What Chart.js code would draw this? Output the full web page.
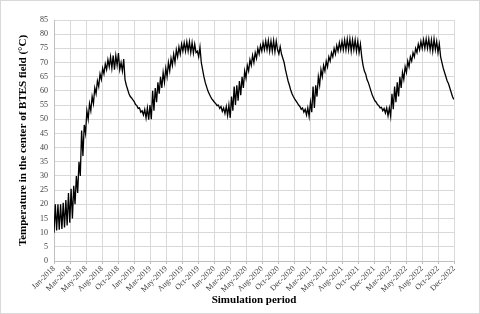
<!DOCTYPE html>
<html>
<head>
<meta charset="utf-8">
<script src="https://cdn.jsdelivr.net/npm/chart.js@4.4.1/dist/chart.umd.min.js"></script>
<style>
  html, body { margin: 0; padding: 0; background: #fff; }
  canvas { display: block; }
</style>
</head>
<body>
<canvas id="chart" width="480" height="314"></canvas>
<script>
// tick labels along the date axis (one every 73 days)
const xLabels = ['Jan-2018','Mar-2018','May-2018','Aug-2018','Oct-2018','Jan-2019','Mar-2019','May-2019','Aug-2019','Oct-2019',
  'Jan-2020','Mar-2020','May-2020','Aug-2020','Oct-2020','Dec-2020','Mar-2021','May-2021','Aug-2021','Oct-2021',
  'Dec-2021','Mar-2022','May-2022','Aug-2022','Oct-2022','Dec-2022'];
const tickDays = 73;
const dayStep = 6; // days between samples

// temperature in the centre of the BTES field (°C)
const temps = [
  10, 20, 10.8, 20, 11, 20, 11.3, 20.5, 11.8, 21.5, 12.5, 24, 13.5, 25.5, 15, 26.5, 20, 30, 24, 35,
  30, 46, 37, 48, 45, 53, 50, 55.5, 53, 58, 55.5, 61, 59, 63.5, 61.5, 66, 64, 68, 66, 69.5,
  67.5, 71, 68.5, 72, 68, 72.5, 67.5, 72.5, 69, 73.3, 67.5, 70, 67, 71.2, 64, 62, 60.5, 59, 58, 57.5,
  56.8, 56.2, 55.2, 54.8, 53.8, 54, 52.5, 53, 51.5, 53.5, 50.5, 54, 49.8, 55, 50, 60, 53, 61, 56, 63,
  59, 65, 61, 66.5, 63, 68, 65, 70, 67, 71.5, 69, 73, 70, 74.5, 72, 75.5, 73, 76.5, 74, 77,
  74, 77.3, 74, 77.3, 73.5, 77, 73.3, 76.5, 73.5, 74, 72, 75.4, 70, 67.5, 65, 63, 61.5, 60, 59, 58,
  57.2, 56.6, 56, 55.5, 54.8, 55, 53.8, 54.5, 52.8, 54, 52, 54.5, 51.3, 55, 50.5, 58, 53, 61.5, 55, 62,
  56.5, 63.5, 58.5, 65, 61, 67, 64.5, 69, 67, 71, 69, 72.5, 70, 73.5, 71.5, 75, 73, 76, 74, 77,
  74.5, 77.6, 74.5, 77.8, 74, 77.6, 74, 77.8, 73.8, 77.6, 74.5, 73, 75.6, 73, 71.5, 70, 67.5, 65.5, 63.5, 62,
  60.3, 59, 58, 57.2, 56.5, 55.8, 55, 54.5, 53.5, 54, 52.5, 53.5, 51.5, 54, 51, 56, 52.5, 61.5, 54, 62,
  58, 65, 62, 67.5, 65, 69, 67, 70.5, 68.5, 72, 70.5, 73.5, 72, 75, 73, 76, 74, 77, 74.5, 77.5,
  74.5, 78, 74.5, 78.3, 74.5, 78.3, 74, 78, 74.5, 78, 74, 77.5, 73.5, 76.5, 72, 69, 67, 66, 64, 63,
  61.5, 60, 58.5, 57.5, 56.5, 56, 55.2, 54.8, 54, 54.2, 53, 53.8, 52.2, 54, 51.2, 54, 51, 59, 53.5, 61.5,
  56, 63, 58, 65, 61, 66.5, 64, 68.5, 66.5, 70.5, 68.5, 72, 70.5, 73.5, 72, 75, 73.5, 76.5, 74.5, 77.5,
  75, 78, 75, 78.3, 75, 78.3, 74.5, 78, 74, 78.3, 74.5, 77.5, 73.5, 76.5, 72, 70, 68, 66.5, 65, 63.5,
  62.5, 61, 59.5, 58, 57
];

const points = temps.map((v, i) => ({ x: i * dayStep, y: v }));

const serif = '"Liberation Serif", "Times New Roman", serif';

const frame = {
  id: 'frame',
  beforeDraw(chart) {
    const c = chart.ctx;
    c.save();
    c.fillStyle = '#fff';
    c.fillRect(0, 0, chart.width, chart.height);
    c.restore();
  },
  afterDraw(chart) {
    const c = chart.ctx;
    c.save();
    c.strokeStyle = '#d9d9d9';
    c.lineWidth = 1;
    c.strokeRect(0.5, 0.5, chart.width - 1, chart.height - 1);
    c.restore();
  }
};

new Chart(document.getElementById('chart'), {
  type: 'line',
  data: {
    datasets: [{
      data: points,
      borderColor: '#000',
      borderWidth: 1.3,
      pointRadius: 0,
      tension: 0,
      fill: false
    }]
  },
  options: {
    responsive: false,
    animation: false,
    devicePixelRatio: 1,
    layout: { padding: { left: 0, right: 26, top: 20, bottom: 0 } },
    plugins: { legend: { display: false }, tooltip: { enabled: false } },
    scales: {
      x: {
        type: 'linear',
        min: 0,
        max: tickDays * (xLabels.length - 1),
        afterFit: s => { s.height = 53; },
        grid: { color: '#d9d9d9', tickLength: 3, tickColor: '#bfbfbf' },
        border: { color: '#bfbfbf' },
        ticks: {
          stepSize: tickDays,
          autoSkip: false,
          maxRotation: 45,
          minRotation: 45,
          padding: 0,
          color: '#404040',
          font: { family: serif, size: 8 },
          callback: (v, i) => xLabels[i]
        },
        title: {
          display: true,
          text: 'Simulation period',
          color: '#000',
          font: { family: serif, size: 11, weight: 'bold' },
          padding: { top: 0, bottom: 7 }
        }
      },
      y: {
        min: 0,
        max: 85,
        afterFit: s => { s.width = 54; },
        grid: { color: '#d9d9d9', drawTicks: false },
        border: { color: '#bfbfbf' },
        ticks: {
          stepSize: 5,
          padding: 6,
          color: '#404040',
          font: { family: serif, size: 8 }
        },
        title: {
          display: true,
          text: 'Temperature in the center of BTES field (°C)',
          color: '#000',
          font: { family: serif, size: 11, weight: 'bold' },
          padding: { top: 17, bottom: 0 }
        }
      }
    }
  },
  plugins: [frame]
});
</script>
</body>
</html>
